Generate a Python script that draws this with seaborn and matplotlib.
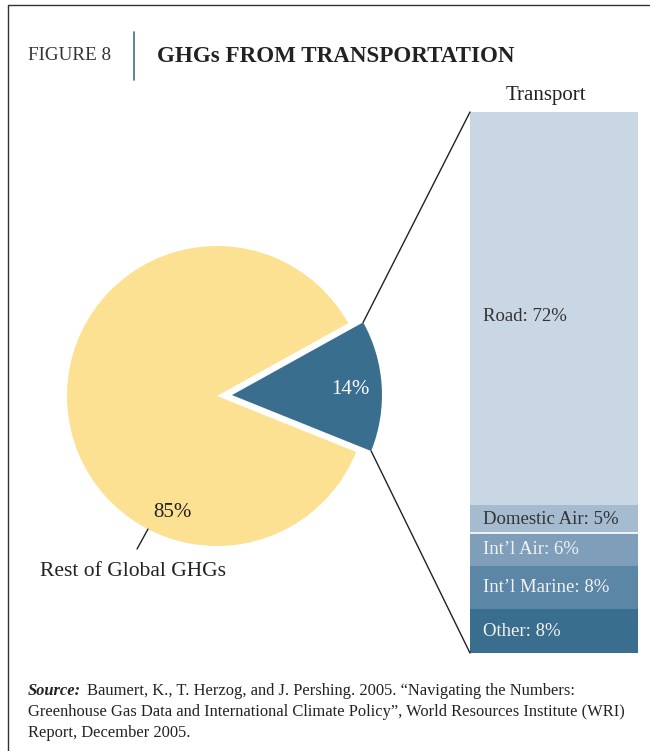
import matplotlib
matplotlib.use("Agg")
import matplotlib.pyplot as plt
from matplotlib.patches import ConnectionPatch
from matplotlib.lines import Line2D
import seaborn as sns
import numpy as np

# --- DATA ---
PIE_LABELS = ['Rest of Global GHGs', 'Transport']
PIE_VALUES = [85, 14]
PIE_COLORS = ['#FDE193', '#3A6E8F']

SEGMENTS = ['Other', "Int\u2019l Marine", "Int\u2019l Air", 'Domestic Air', 'Road']
SEG_VALUES = [8, 8, 6, 5, 72]
SEG_COLORS = ['#3A6E8F', '#5C86A6', '#7E9EBA', '#A4BBD0', '#C9D6E4']
SEG_TEXT = ['#F2F2F2', '#F2F2F2', '#F2F2F2', '#333333', '#333333']
# ------------

W, H = 650, 751

sns.set_theme(style="white")
plt.rcParams['font.family'] = ['Liberation Serif', 'DejaVu Serif']


def fx(x):
    return x / W


def fy(y):
    return 1 - y / H


fig = plt.figure(figsize=(W / 100, H / 100), dpi=100)

# frame lines (top and left)
fig.add_artist(Line2D([fx(8), 1], [fy(5), fy(5)], color='#333333', lw=1.0))
fig.add_artist(Line2D([fx(8), fx(8)], [fy(5), 0], color='#333333', lw=1.0))

# header
fig.text(fx(28), fy(56), 'FIGURE 8', fontsize=13.8, color='#333333', va='center')
fig.add_artist(Line2D([fx(134), fx(134)], [fy(32), fy(80)], color='#3A6E8F', lw=1.2))
fig.text(fx(157), fy(56), 'GHGs FROM TRANSPORTATION', fontsize=16.6,
         fontweight='bold', color='#222222', va='center')

# --- PIE ---
R = 150
cx, cy = 217, 396
half = 200
axp = fig.add_axes([fx(cx - half), fy(cy + half), 2 * half / W, 2 * half / H])
wedges, _ = axp.pie(PIE_VALUES, colors=PIE_COLORS, startangle=29,
                    explode=[0, 0.1], radius=1,
                    wedgeprops=dict(linewidth=0))
lim = half / R
axp.set_xlim(-lim, lim)
axp.set_ylim(-lim, lim)
axp.axis('off')

axp.text(0.89, 0.045, '14%', color='white', fontsize=15, ha='center', va='center')
axp.text(-0.30, -0.777, '85%', color='#222222', fontsize=15, ha='center', va='center')
axp.plot([-0.46, -0.533], [-0.887, -1.02], color='#222222', lw=1.0)
axp.text(-0.56, -1.167, PIE_LABELS[0], color='#222222', fontsize=15.5,
         ha='center', va='center')

# --- STACKED BAR ---
axb = fig.add_axes([fx(470), fy(653), 168 / W, 541 / H])
bottom = 0
for name, val, col, tcol in zip(SEGMENTS, SEG_VALUES, SEG_COLORS, SEG_TEXT):
    sns.barplot(x=[0], y=[val], bottom=bottom, color=col, width=1.0,
                saturation=1, ax=axb, linewidth=0)
    ymid = bottom + val / 2
    if name == 'Road':
        ymid -= 1.5  # road label sits a bit below the middle
    axb.text(-0.42, ymid, f'{name}: {val}%', color=tcol,
             fontsize=13.5, ha='left', va='center')
    bottom += val
# thin white separator under Domestic Air
sep = sum(SEG_VALUES[:3])
axb.axhline(sep, color='white', lw=1.2)
axb.set_xlim(-0.5, 0.5)
axb.set_ylim(0, bottom)
axb.axis('off')
axb.text(-0.05, bottom + 1.2, 'Transport', fontsize=15, color='#222222',
         ha='center', va='bottom')

# connector lines from transport wedge corners to bar corners
w = wedges[1]
cxw, cyw = w.center
for ang, ybar in [(w.theta2, bottom), (w.theta1, 0)]:
    t = np.deg2rad(ang)
    p = (cxw + w.r * np.cos(t), cyw + w.r * np.sin(t))
    con = ConnectionPatch(xyA=p, coordsA=axp.transData,
                          xyB=(-0.5, ybar), coordsB=axb.transData,
                          color='#222222', lw=1.0)
    fig.add_artist(con)

# --- SOURCE ---
SRC_FS = 11.9
fig.text(fx(28), fy(691), 'Source:', fontsize=SRC_FS, fontweight='bold',
         fontstyle='italic', color='#222222', va='center')
fig.text(fx(87), fy(691),
         'Baumert, K., T. Herzog, and J. Pershing. 2005. \u201cNavigating the Numbers:',
         fontsize=SRC_FS, color='#222222', va='center')
fig.text(fx(28), fy(712),
         'Greenhouse Gas Data and International Climate Policy\u201d, World Resources Institute (WRI)',
         fontsize=SRC_FS, color='#222222', va='center')
fig.text(fx(28), fy(733), 'Report, December 2005.', fontsize=SRC_FS,
         color='#222222', va='center')

fig.savefig('out.png', dpi=100)
